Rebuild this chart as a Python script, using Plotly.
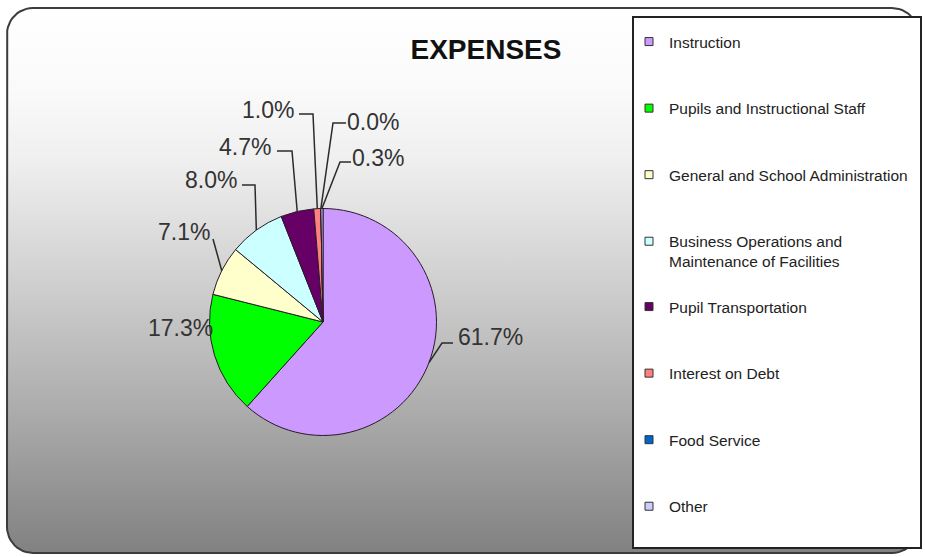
import math
import plotly.graph_objects as go

# ---------------- data ----------------
categories = [
    "Instruction",
    "Pupils and Instructional Staff",
    "General and School Administration",
    "Business Operations and<br>Maintenance of Facilities",
    "Pupil Transportation",
    "Interest on Debt",
    "Food Service",
    "Other",
]
values = [61.7, 17.3, 7.1, 8.0, 4.7, 1.0, 0.0, 0.3]
colors = ["#CC99FF", "#00FF00", "#FFFFCC", "#CCFFFF", "#660066", "#FF8080", "#0066CC", "#CCCCFF"]
title_text = "EXPENSES"

# ---------------- layout constants (pixels, origin top-left) ----------------
W, H = 925, 557
CX, CY, R = 323, 322, 113.5          # pie centre / radius
FONT = "Liberation Sans, Arial, sans-serif"

# label placement for each slice: text anchor point and leader-line elbows
label_layout = [
    dict(tx=456, ty=337, xa="left",  elbows=[(442, 343), (453, 343)]),
    dict(tx=215, ty=328, xa="right", elbows=[]),
    dict(tx=212, ty=232, xa="right", elbows=[(213, 239)]),
    dict(tx=239, ty=180, xa="right", elbows=[(255, 185), (242, 185)]),
    dict(tx=273, ty=147, xa="right", elbows=[(292, 151), (277, 151)]),
    dict(tx=296, ty=110, xa="right", elbows=[(313, 114), (299, 114)]),
    dict(tx=345, ty=122, xa="left",  elbows=[(333, 123), (346, 123)]),
    dict(tx=350, ty=158, xa="left",  elbows=[(340, 162), (351, 162)]),
]


def Y(ypx):
    return H - ypx


fig = go.Figure()

# ---------------- rounded gradient background ----------------
x0, y0, x1, y1, rad = 7, 8, 918, 553, 26
bx, by = [], []
corners = [(x1 - rad, y0 + rad, -90, 0), (x1 - rad, y1 - rad, 0, 90),
           (x0 + rad, y1 - rad, 90, 180), (x0 + rad, y0 + rad, 180, 270)]
for ccx, ccy, a0, a1 in corners:
    for k in range(13):
        a = math.radians(a0 + (a1 - a0) * k / 12)
        bx.append(ccx + rad * math.cos(a))
        by.append(Y(ccy + rad * math.sin(a)))
bx.append(bx[0]); by.append(by[0])
fig.add_trace(go.Scatter(
    x=bx, y=by, mode="lines", fill="toself",
    line=dict(color="#3c3c3c", width=2),
    fillgradient=dict(type="vertical",
                      colorscale=[[0, "#818181"], [0.25, "#aaaaaa"], [0.5, "#d0d0d0"],
                                  [0.72, "#efefef"], [0.85, "#fafafa"], [1, "#ffffff"]]),
    hoverinfo="skip", showlegend=False))

# ---------------- pie ----------------
fig.add_trace(go.Pie(
    labels=categories, values=values, sort=False, direction="clockwise", rotation=0,
    marker=dict(colors=colors, line=dict(color="#2a1a2a", width=1)),
    textinfo="none", textposition="none", showlegend=False,
    domain=dict(x=[(CX - R) / W, (CX + R) / W], y=[(H - CY - R) / H, (H - CY + R) / H]),
    hovertemplate="%{label}: %{value:.1f}%<extra></extra>",
))

# ---------------- legend entries ----------------
for i, (name, col) in enumerate(zip(categories, colors)):
    fig.add_trace(go.Scatter(
        x=[None], y=[None], mode="markers", name=name,
        marker=dict(symbol="square", size=8, color=col, line=dict(color="#333333", width=1)),
        legendgroup=f"g{i}", legend="legend" if i < 4 else "legend2",
        hoverinfo="skip"))

# ---------------- labels with leader lines ----------------
total = sum(values)
shapes = []
annotations = []
cum = 0.0
for v, lay in zip(values, label_layout):
    theta = 2 * math.pi * (cum + v / 2) / total
    cum += v
    ax = CX + R * math.sin(theta)
    ay = CY - R * math.cos(theta)
    if lay["elbows"]:
        pts = [(ax, ay)] + lay["elbows"]
        path = "M " + " L ".join(f"{px:.2f},{Y(py):.2f}" for px, py in pts)
        shapes.append(dict(type="path", xref="x", yref="y", path=path,
                           line=dict(color="#2b2b2b", width=1.5), layer="above"))
    annotations.append(dict(
        x=lay["tx"], y=Y(lay["ty"]), xref="x", yref="y",
        text=f"{v:.1f}%", showarrow=False, xanchor=lay["xa"], yanchor="middle",
        font=dict(family=FONT, size=23, color="#333333")))

# legend frame
shapes.append(dict(type="rect", xref="x", yref="y", x0=633, x1=921, y0=Y(17), y1=Y(548),
                   fillcolor="white", line=dict(color="#222222", width=2), layer="above"))

legend_common = dict(
    xanchor="left", yanchor="top", bgcolor="rgba(0,0,0,0)", borderwidth=0,
    font=dict(family=FONT, size=15.5, color="#222222"),
    tracegroupgap=43.4, traceorder="grouped", valign="top", itemclick=False,
)

fig.update_layout(
    width=W, height=H, autosize=False,
    margin=dict(l=0, r=0, t=0, b=0),
    paper_bgcolor="white", plot_bgcolor="rgba(0,0,0,0)",
    xaxis=dict(range=[0, W], visible=False, fixedrange=True, domain=[0, 1]),
    yaxis=dict(range=[0, H], visible=False, fixedrange=True, domain=[0, 1]),
    title=dict(text=f"<b>{title_text}</b>", x=486 / W, y=Y(49) / H, xanchor="center",
               yanchor="middle", font=dict(family=FONT, size=28, color="#111111")),
    shapes=shapes, annotations=annotations,
    legend=dict(x=(649 - 20) / W, y=Y(25) / H, **legend_common),
    legend2=dict(x=(649 - 20) / W, y=Y(290) / H, **legend_common),
    showlegend=True,
)

fig.write_html("out.html")
